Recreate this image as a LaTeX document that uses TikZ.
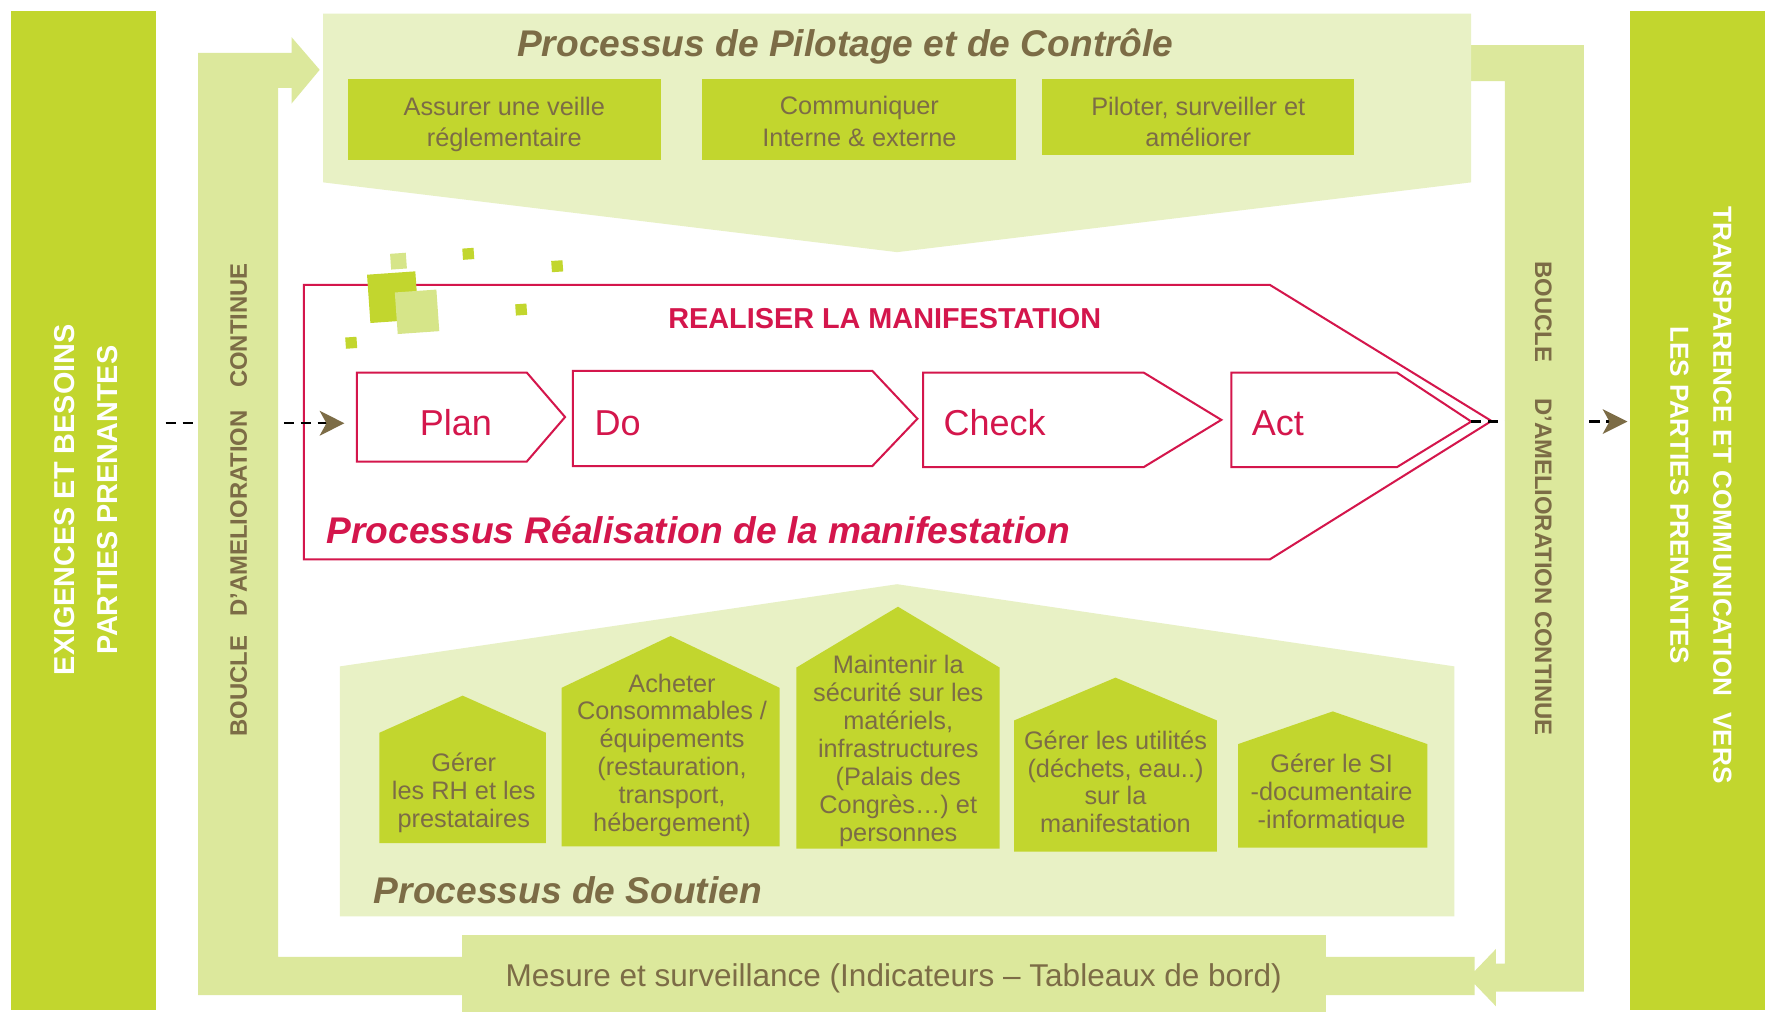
\documentclass[tikz,border=0pt]{standalone}
\usepackage{fontspec}
\setmainfont{Liberation Sans}
\usetikzlibrary{arrows.meta}
\definecolor{leaf}{RGB}{194,214,46}
\definecolor{loopgreen}{RGB}{220,232,156}
\definecolor{palegreen}{RGB}{232,241,197}
\definecolor{chip}{RGB}{214,229,137}
\definecolor{mud}{RGB}{124,108,70}
\definecolor{crimson}{RGB}{212,22,76}
\tikzset{
	pics/house/.style args={#1/#2/#3/#4/#5}{
	code = {
		\fill[leaf] (#1,#5) -- (#1,#3) -- ({(#1+#2)/2},#4) -- (#2,#3) -- (#2,#5) -- cycle;
	}},
	bar/.style={fill=leaf, inner sep=0pt},
	chipbox/.style={fill=leaf, inner sep=0pt},
	chiptxt/.style={text=mud, align=center, inner sep=0pt, font=\fontsize{22.5}{28}\selectfont},
	housetxt/.style={text=mud, align=center, inner sep=0pt, font=\fontsize{22.5}{24.8}\selectfont},
	looptxt/.style={text=mud, inner sep=0pt, font=\bfseries\fontsize{21.2}{25}\selectfont},
	sidetxt/.style={text=white, align=center, inner sep=0pt},
	proctitle/.style={inner sep=0pt, font=\bfseries\itshape\fontsize{33}{40}\selectfont},
	pdcatxt/.style={text=crimson, inner sep=0pt, font=\fontsize{32}{38}\selectfont},
	redline/.style={draw=crimson, line width=1.8pt, line join=miter, fill=white},
	flow/.style={black, line width=2pt, dash pattern=on 9pt off 6pt, -{Stealth[length=22pt, width=22pt, inset=6pt, color=mud]}}
}
\begin{document}
\begin{tikzpicture}[x=1pt, y=-1pt]
		\useasboundingbox (0,0) rectangle (1568,899);
		\fill[white] (0,0) rectangle (1568,899);

		% side bars
		\node[bar, minimum width=129pt, minimum height=887pt] (exig) at (74.5,453.5) {};
		\node[bar, minimum width=122pt, minimum height=887pt] (transp) at (1509,453.5) {};
		\node[sidetxt, rotate=90, font=\bfseries\fontsize{25.6}{39}\selectfont] (exigtxt) at (76.5,444) {EXIGENCES ET BESOINS\\PARTIES PRENANTES};
		\node[sidetxt, rotate=-90, font=\bfseries\fontsize{23.2}{38}\selectfont] (transptxt) at (1511,440) {TRANSPARENCE ET COMMUNICATION\hspace{8pt} VERS\\LES PARTIES PRENANTES};

		% realisation
		\draw[redline] (270,253) -- (1128,253) -- (1325,374) -- (1128,497) -- (270,497) -- cycle;
		\draw[redline] (317,331) -- (468,331) -- (502,370.5) -- (468,410) -- (317,410) -- cycle;
		\draw[redline] (509,329.5) -- (775,329.5) -- (815,372) -- (775,414) -- (509,414) -- cycle;
		\draw[redline] (820,331) -- (1016,331) -- (1085,373) -- (1016,415) -- (820,415) -- cycle;
		\draw[redline] (1094,331) -- (1241,331) -- (1307,374.5) -- (1241,415) -- (1094,415) -- cycle;
		\coordinate (planin) at (306,376);
		\coordinate (acttip) at (1307,374.5);
		\node[pdcatxt, anchor=base] (plan) at (405,387) {Plan};
		\node[pdcatxt, anchor=base west] (do) at (528,387) {Do};
		\node[pdcatxt, anchor=base west] (check) at (838,387) {Check};
		\node[pdcatxt, anchor=base west] (act) at (1112,387) {Act};
		\node[text=crimson, inner sep=0pt, font=\bfseries\fontsize{25.6}{30}\selectfont] (realiser) at (786,283) {REALISER LA MANIFESTATION};
		\node[proctitle, text=crimson, anchor=base west] (realtitle) at (290,482.5) {Processus Réalisation de la manifestation};

		% inputs and outputs
		\draw[flow, shorten <=8pt] (exig.east |- planin) -- (planin);
		\draw[flow, shorten >=2pt] (acttip) -- (acttip -| transp.west);

		% improvement loop
		\fill[loopgreen] (176,884) -- (176,47) -- (259,47) -- (259,33) -- (284,62) -- (259,92) -- (259,78) -- (247,78)
			-- (247,850) -- (1310,850) -- (1310,862.8) -- (1329,843) -- (1329,856) -- (1337,856) -- (1337,72)
			-- (1307,72) -- (1307,40) -- (1407,40) -- (1407,881) -- (1329,881) -- (1329,894) -- (1310,874.2)
			-- (1310,884) -- cycle;
		\node[looptxt, rotate=90] (bouclel) at (212,444) {BOUCLE\hspace{11pt} D’AMELIORATION\hspace{14pt} CONTINUE};
		\node[looptxt, rotate=-90] (boucler) at (1371,443) {BOUCLE\hspace{26pt} D’AMELIORATION CONTINUE};
		\node[fill=loopgreen, inner sep=0pt, minimum width=768pt, minimum height=70pt] (mesure) at (794,866) {};
		\node[text=mud, inner sep=0pt, font=\fontsize{28}{34}\selectfont] (mesuretxt) at (794,869) {Mesure et surveillance (Indicateurs – Tableaux de bord)};

		% pilotage
		\fill[palegreen] (287,12) -- (1307,12) -- (1307,162) -- (797,224) -- (287,162) -- cycle;
		\node[proctitle, text=mud, anchor=base] (pilotitle) at (751,50) {Processus de Pilotage et de Contrôle};
		\node[chipbox, minimum width=278pt, minimum height=72pt] (veille) at (448,106) {};
		\node[chipbox, minimum width=279pt, minimum height=72pt] (comm) at (763.5,106) {};
		\node[chipbox, minimum width=277pt, minimum height=68pt] (pilot) at (1064.5,104) {};
		\node[chiptxt] (veilletxt) at (448,110.5) {Assurer une veille\\réglementaire};
		\node[chiptxt] (commtxt) at (763.5,108) {Communiquer\\Interne \& externe};
		\node[chiptxt] (pilottxt) at (1064.5,108.5) {Piloter, surveiller et\\améliorer};

		% squares
		\foreach \cx/\cy/\s/\c in {354/232/14/chip, 349/264/43/leaf, 370.5/277/37/chip, 416/225.5/10/leaf, 495/236.5/10/leaf, 463/275/10/leaf, 312/304.5/10/leaf}
			\fill[\c, rotate around={4:(\cx,\cy)}] ({\cx-\s/2},{\cy-\s/2}) rectangle ({\cx+\s/2},{\cy+\s/2});

		% soutien
		\fill[palegreen] (302,592) -- (797,519) -- (1292,592) -- (1292,814) -- (302,814) -- cycle;
		\pic{house=337/485/651/618/749};
		\pic{house=499/692.5/611/565/752};
		\pic{house=707.5/888/593/539/754};
		\pic{house=901/1081/640/602/756.5};
		\pic{house=1100/1268/661/632/753};
		\node[housetxt] (rh) at (412,704.5) {Gérer\\les RH et les\\prestataires};
		\node[housetxt] (achat) at (597,671) {Acheter\\Consommables /\\équipements\\(restauration,\\transport,\\hébergement)};
		\node[housetxt] (secu) at (798,667) {Maintenir la\\sécurité sur les\\matériels,\\infrastructures\\(Palais des\\Congrès…) et\\personnes};
		\node[housetxt] (util) at (991,694.5) {Gérer les utilités\\(déchets, eau..)\\sur la\\manifestation};
		\node[housetxt] (si) at (1183,705) {Gérer le SI\\-documentaire\\-informatique};
		\node[proctitle, text=mud, anchor=base west] (soutien) at (332,802.5) {Processus de Soutien};
	\end{tikzpicture}
\end{document}
